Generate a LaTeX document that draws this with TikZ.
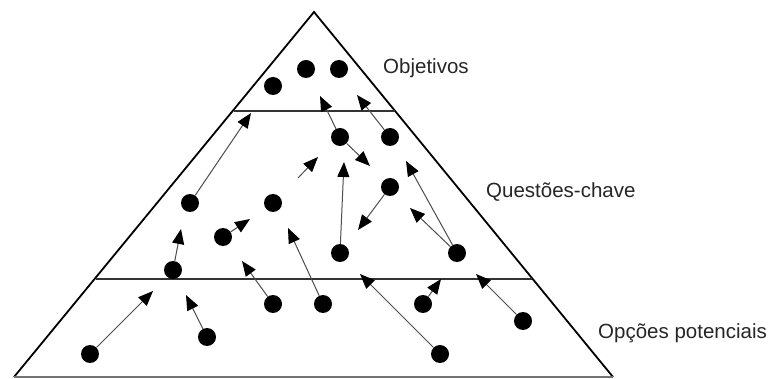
\documentclass[tikz,border=0pt]{standalone}
\usepackage{fontspec}
\setmainfont{Liberation Sans}
\usetikzlibrary{arrows.meta}
\begin{document}
\begin{tikzpicture}[x=1pt,y=-1pt,
  dot/.style={circle,fill=black,inner sep=0pt,minimum size=18pt},
  arr/.style={-{Triangle[length=15pt,width=12pt,color=black]},line width=1pt,draw=black!70},
  side/.style={line width=1.8pt,black},
  level/.style={line width=1.8pt,black!80},
  lbl/.style={anchor=base west,inner sep=0pt,font=\fontsize{20.5}{24}\selectfont,text=black!85}]
\useasboundingbox (0,0) rectangle (779,379);
% triangle
\coordinate (apex) at (314,12);
\coordinate (bl) at (14,377);
\coordinate (br) at (613,377);
\draw[side] (bl) -- (apex) -- (br);
\draw[line width=1.2pt,black!55] (bl) -- (br);
% level lines
\coordinate (l1a) at (234,111);
\coordinate (l1b) at (395,111);
\coordinate (l2a) at (96,279);
\coordinate (l2b) at (532,279);
\draw[level] (l1a) -- (l1b);
\draw[level] (l2a) -- (l2b);
% dots
\node[dot] (d1) at (273,86) {};
\node[dot] (d2) at (306,69) {};
\node[dot] (d3) at (339,69) {};
\node[dot] (d4) at (340,137) {};
\node[dot] (d5) at (390,137) {};
\node[dot] (d6) at (190,203) {};
\node[dot] (d7) at (273,203) {};
\node[dot] (d8) at (390,187) {};
\node[dot] (d9) at (223,237) {};
\node[dot] (d10) at (340,253) {};
\node[dot] (d11) at (457,253) {};
\node[dot] (d12) at (173,270) {};
\node[dot] (d13) at (90,354) {};
\node[dot] (d14) at (207,337) {};
\node[dot] (d15) at (273,304) {};
\node[dot] (d16) at (323,304) {};
\node[dot] (d17) at (423,304) {};
\node[dot] (d18) at (440,354) {};
\node[dot] (d19) at (523,321) {};
% arrow ends
\coordinate (t6) at (251,113);
\coordinate (t4a) at (320,96);
\coordinate (t5) at (357,95);
\coordinate (t4b) at (370,166);
\coordinate (s0) at (298,178);
\coordinate (t0) at (318,157);
\coordinate (t10) at (344,162);
\coordinate (t8) at (358,230);
\coordinate (t11a) at (406,161);
\coordinate (t11b) at (410,208);
\coordinate (t9) at (250,219);
\coordinate (t12) at (181,229);
\coordinate (t16) at (288,228);
\coordinate (t15) at (242,261);
\coordinate (t13) at (153,291);
\coordinate (t14) at (186,295);
\coordinate (t18) at (360,274);
\coordinate (t17) at (441,279);
\coordinate (t19) at (476,274);
% arrows
\draw[arr] (d6) -- (t6);
\draw[arr] (d4) -- (t4a);
\draw[arr] (d5) -- (t5);
\draw[arr] (d4) -- (t4b);
\draw[arr] (s0) -- (t0);
\draw[arr] (d10) -- (t10);
\draw[arr] (d8) -- (t8);
\draw[arr] (d11) -- (t11a);
\draw[arr] (d11) -- (t11b);
\draw[arr] (d9) -- (t9);
\draw[arr] (d12) -- (t12);
\draw[arr] (d16) -- (t16);
\draw[arr] (d15) -- (t15);
\draw[arr] (d13) -- (t13);
\draw[arr] (d14) -- (t14);
\draw[arr] (d18) -- (t18);
\draw[arr] (d17) -- (t17);
\draw[arr] (d19) -- (t19);
% labels
\node[lbl] (obj) at (383,74) {Objetivos};
\node[lbl] (qc) at (486,198) {Questões-chave};
\node[lbl] (op) at (598,338) {Opções potenciais};
\end{tikzpicture}
\end{document}
